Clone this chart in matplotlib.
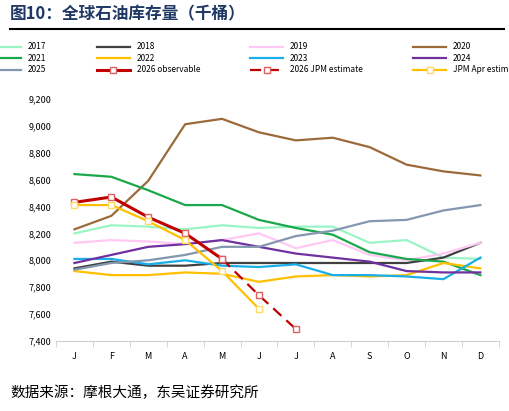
import matplotlib
matplotlib.use("Agg")
import matplotlib.pyplot as plt
from matplotlib.lines import Line2D

plt.rcParams['font.family'] = ['Noto Sans CJK SC', 'DejaVu Sans']

months = ["J","F","M","A","M","J","J","A","S","O","N","D"]
y2017 = [8200, 8260, 8250, 8230, 8260, 8240, 8250, 8250, 8130, 8150, 8020, 8010]
y2018 = [7940, 7990, 7960, 7960, 7980, 7980, 7980, 7980, 7980, 7980, 8020, 8130]
y2019 = [8130, 8150, 8140, 8120, 8150, 8200, 8090, 8150, 8040, 8000, 8050, 8130]
y2020 = [8230, 8330, 8590, 9010, 9050, 8950, 8890, 8910, 8840, 8710, 8660, 8630]
y2021 = [8640, 8620, 8520, 8410, 8410, 8300, 8240, 8190, 8060, 8010, 7990, 7890]
y2022 = [7920, 7890, 7890, 7910, 7900, 7840, 7880, 7890, 7880, 7890, 7980, 7940]
y2023 = [8010, 8010, 7970, 8000, 7960, 7950, 7970, 7890, 7890, 7880, 7860, 8020]
y2024 = [7980, 8040, 8100, 8120, 8150, 8100, 8050, 8020, 7990, 7920, 7910, 7910]
y2025 = [7930, 7980, 8000, 8040, 8100, 8100, 8180, 8220, 8290, 8300, 8370, 8410]
obs2026 = [8430, 8470, 8320, 8200, 8010]
est2026 = [8010, 7740, 7490]
jpm_apr = [8410, 8410, 8290, 8150, 7920, 7640]

fig = plt.figure(figsize=(5.09, 4.11), dpi=100)
fig.text(0.02, 0.965, "图10：全球石油库存量（千桶）", fontsize=12, fontweight='bold', color='#1f3864', va='center')
fig.add_artist(Line2D([0.02, 0.99], [0.93, 0.93], color='black', lw=1.5))
fig.text(0.02, 0.045, "数据来源：摩根大通，东吴证券研究所", fontsize=10.5, va='center')

ax = fig.add_axes([0.11, 0.17, 0.87, 0.59])
x = list(range(12))
series = [(y2017,'#99f5c5','2017'),(y2018,'#404040','2018'),(y2019,'#ffc8f5','2019'),(y2020,'#9c6a3a','2020'),
          (y2021,'#1aa84a','2021'),(y2022,'#ffc000','2022'),(y2023,'#1aaee8','2023'),(y2024,'#7030a0','2024'),
          (y2025,'#8497b0','2025')]
handles = []
for d, c, l in series:
    h, = ax.plot(x, d, color=c, lw=1.6, label=l)
    handles.append(h)
h1, = ax.plot(x[:5], obs2026, color='#c00000', lw=2.2, marker='s', mfc='white', mec='#e06060', ms=5, label='2026 observable')
h2, = ax.plot(x[4:7], est2026, color='#c00000', lw=1.6, ls=(0,(5,3)), marker='s', mfc='white', mec='#e06060', ms=5, label='2026 JPM estimate')
h3, = ax.plot(x[:6], jpm_apr, color='#ffc000', lw=1.6, marker='s', mfc='white', mec='#ffd966', ms=5, label='JPM Apr estimate')
handles += [h1, h2, h3]
ordered = [handles[r*4 + c] for c in range(4) for r in range(3)]

ax.set_ylim(7400, 9200)
ax.set_yticks(range(7400, 9201, 200))
ax.set_yticklabels([f"{v:,}" for v in range(7400, 9201, 200)], fontsize=6.5)
ax.set_xlim(-0.5, 11.5)
ax.set_xticks(x)
ax.set_xticklabels(months, fontsize=6.5)
ax.set_xticks([i+0.5 for i in range(-1, 12)], minor=True)
ax.tick_params(axis='x', which='major', length=0, pad=8)
ax.tick_params(axis='x', which='minor', length=4, color='#d0d0d0')
ax.tick_params(axis='y', length=0)
for s in ['top','right','left']:
    ax.spines[s].set_visible(False)
ax.spines['bottom'].set_color('#d0d0d0')

fig.legend(handles=ordered, loc='upper center', bbox_to_anchor=(0.5, 0.915), ncol=4, frameon=False,
           fontsize=6, handlelength=4, columnspacing=6, labelspacing=0.3)
fig.savefig("out.png", dpi=100)
